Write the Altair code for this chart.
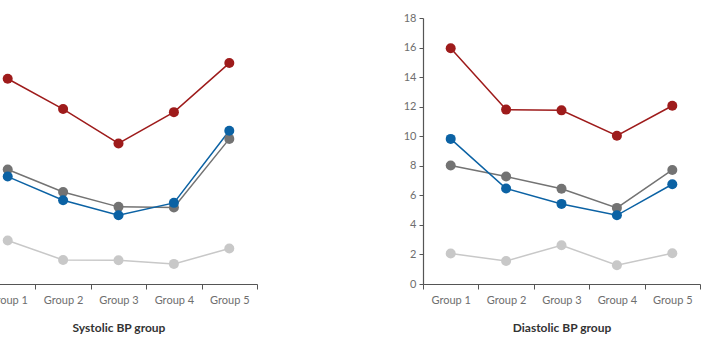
import altair as alt
import pandas as pd

groups = ["Group 1", "Group 2", "Group 3", "Group 4", "Group 5"]

# series drawn back to front
series = ["Light", "Dark", "Blue", "Red"]
colors = ["#c8c8c8", "#737373", "#0b62a4", "#9e1b1b"]

# Systolic BP panel
sys_light = [2.94, 1.63, 1.61, 1.36, 2.40]
sys_dark = [7.75, 6.23, 5.22, 5.18, 9.82]
sys_blue = [7.27, 5.67, 4.65, 5.49, 10.37]
sys_red = [13.89, 11.84, 9.51, 11.63, 14.95]

# Diastolic BP panel
dia_light = [2.06, 1.56, 2.62, 1.27, 2.08]
dia_dark = [8.02, 7.27, 6.44, 5.15, 7.72]
dia_blue = [9.82, 6.46, 5.42, 4.65, 6.75]
dia_red = [15.95, 11.80, 11.75, 10.03, 12.06]

y_ticks = [0, 2, 4, 6, 8, 10, 12, 14, 16, 18]


def frame(values_by_series):
    rows = []
    for name, vals in zip(series, values_by_series):
        for g, v in zip(groups, vals):
            rows.append({"group": g, "series": name, "value": v})
    return pd.DataFrame(rows)


sys_df = frame([sys_light, sys_dark, sys_blue, sys_red])
dia_df = frame([dia_light, dia_dark, dia_blue, dia_red])

FONT = "Lato"


def panel(df, title):
    x = alt.X(
        "group:N",
        sort=groups,
        scale=alt.Scale(paddingInner=0, paddingOuter=0),
        axis=alt.Axis(
            title=title,
            labelAngle=0,
            tickBand="extent",
            tickSize=5,
            labelPadding=5,
            titlePadding=17,
        ),
    )
    y = alt.Y(
        "value:Q",
        scale=alt.Scale(domain=[0, 18], nice=False),
        axis=alt.Axis(title=None, values=y_ticks, grid=False, tickSize=4, labelPadding=3),
    )
    color = alt.Color(
        "series:N",
        scale=alt.Scale(domain=series, range=colors),
        legend=None,
    )
    base = alt.Chart(df).encode(x=x, y=y, color=color)
    lines = base.mark_line(strokeWidth=1.5)
    points = base.mark_point(filled=True, size=100, opacity=1)
    return alt.layer(lines, points).properties(width=277, height=266)


chart = (
    alt.hconcat(
        panel(sys_df, "Systolic BP group"),
        panel(dia_df, "Diastolic BP group"),
        spacing=166,
        bounds="flush",
    )
    .properties(
        padding={"left": -40, "top": 12, "right": 0, "bottom": 20},
        background="white",
    )
    .configure_view(stroke=None)
    .configure_axis(
        domainColor="#555555",
        tickColor="#555555",
        labelColor="#6e6e6e",
        labelFont=FONT,
        labelFontSize=11,
        titleFont=FONT,
        titleFontSize=12,
        titleFontWeight="bold",
        titleColor="#333333",
        domainWidth=1.2,
    )
)

chart.save("out.html", embed_options={"renderer": "svg", "actions": False})
